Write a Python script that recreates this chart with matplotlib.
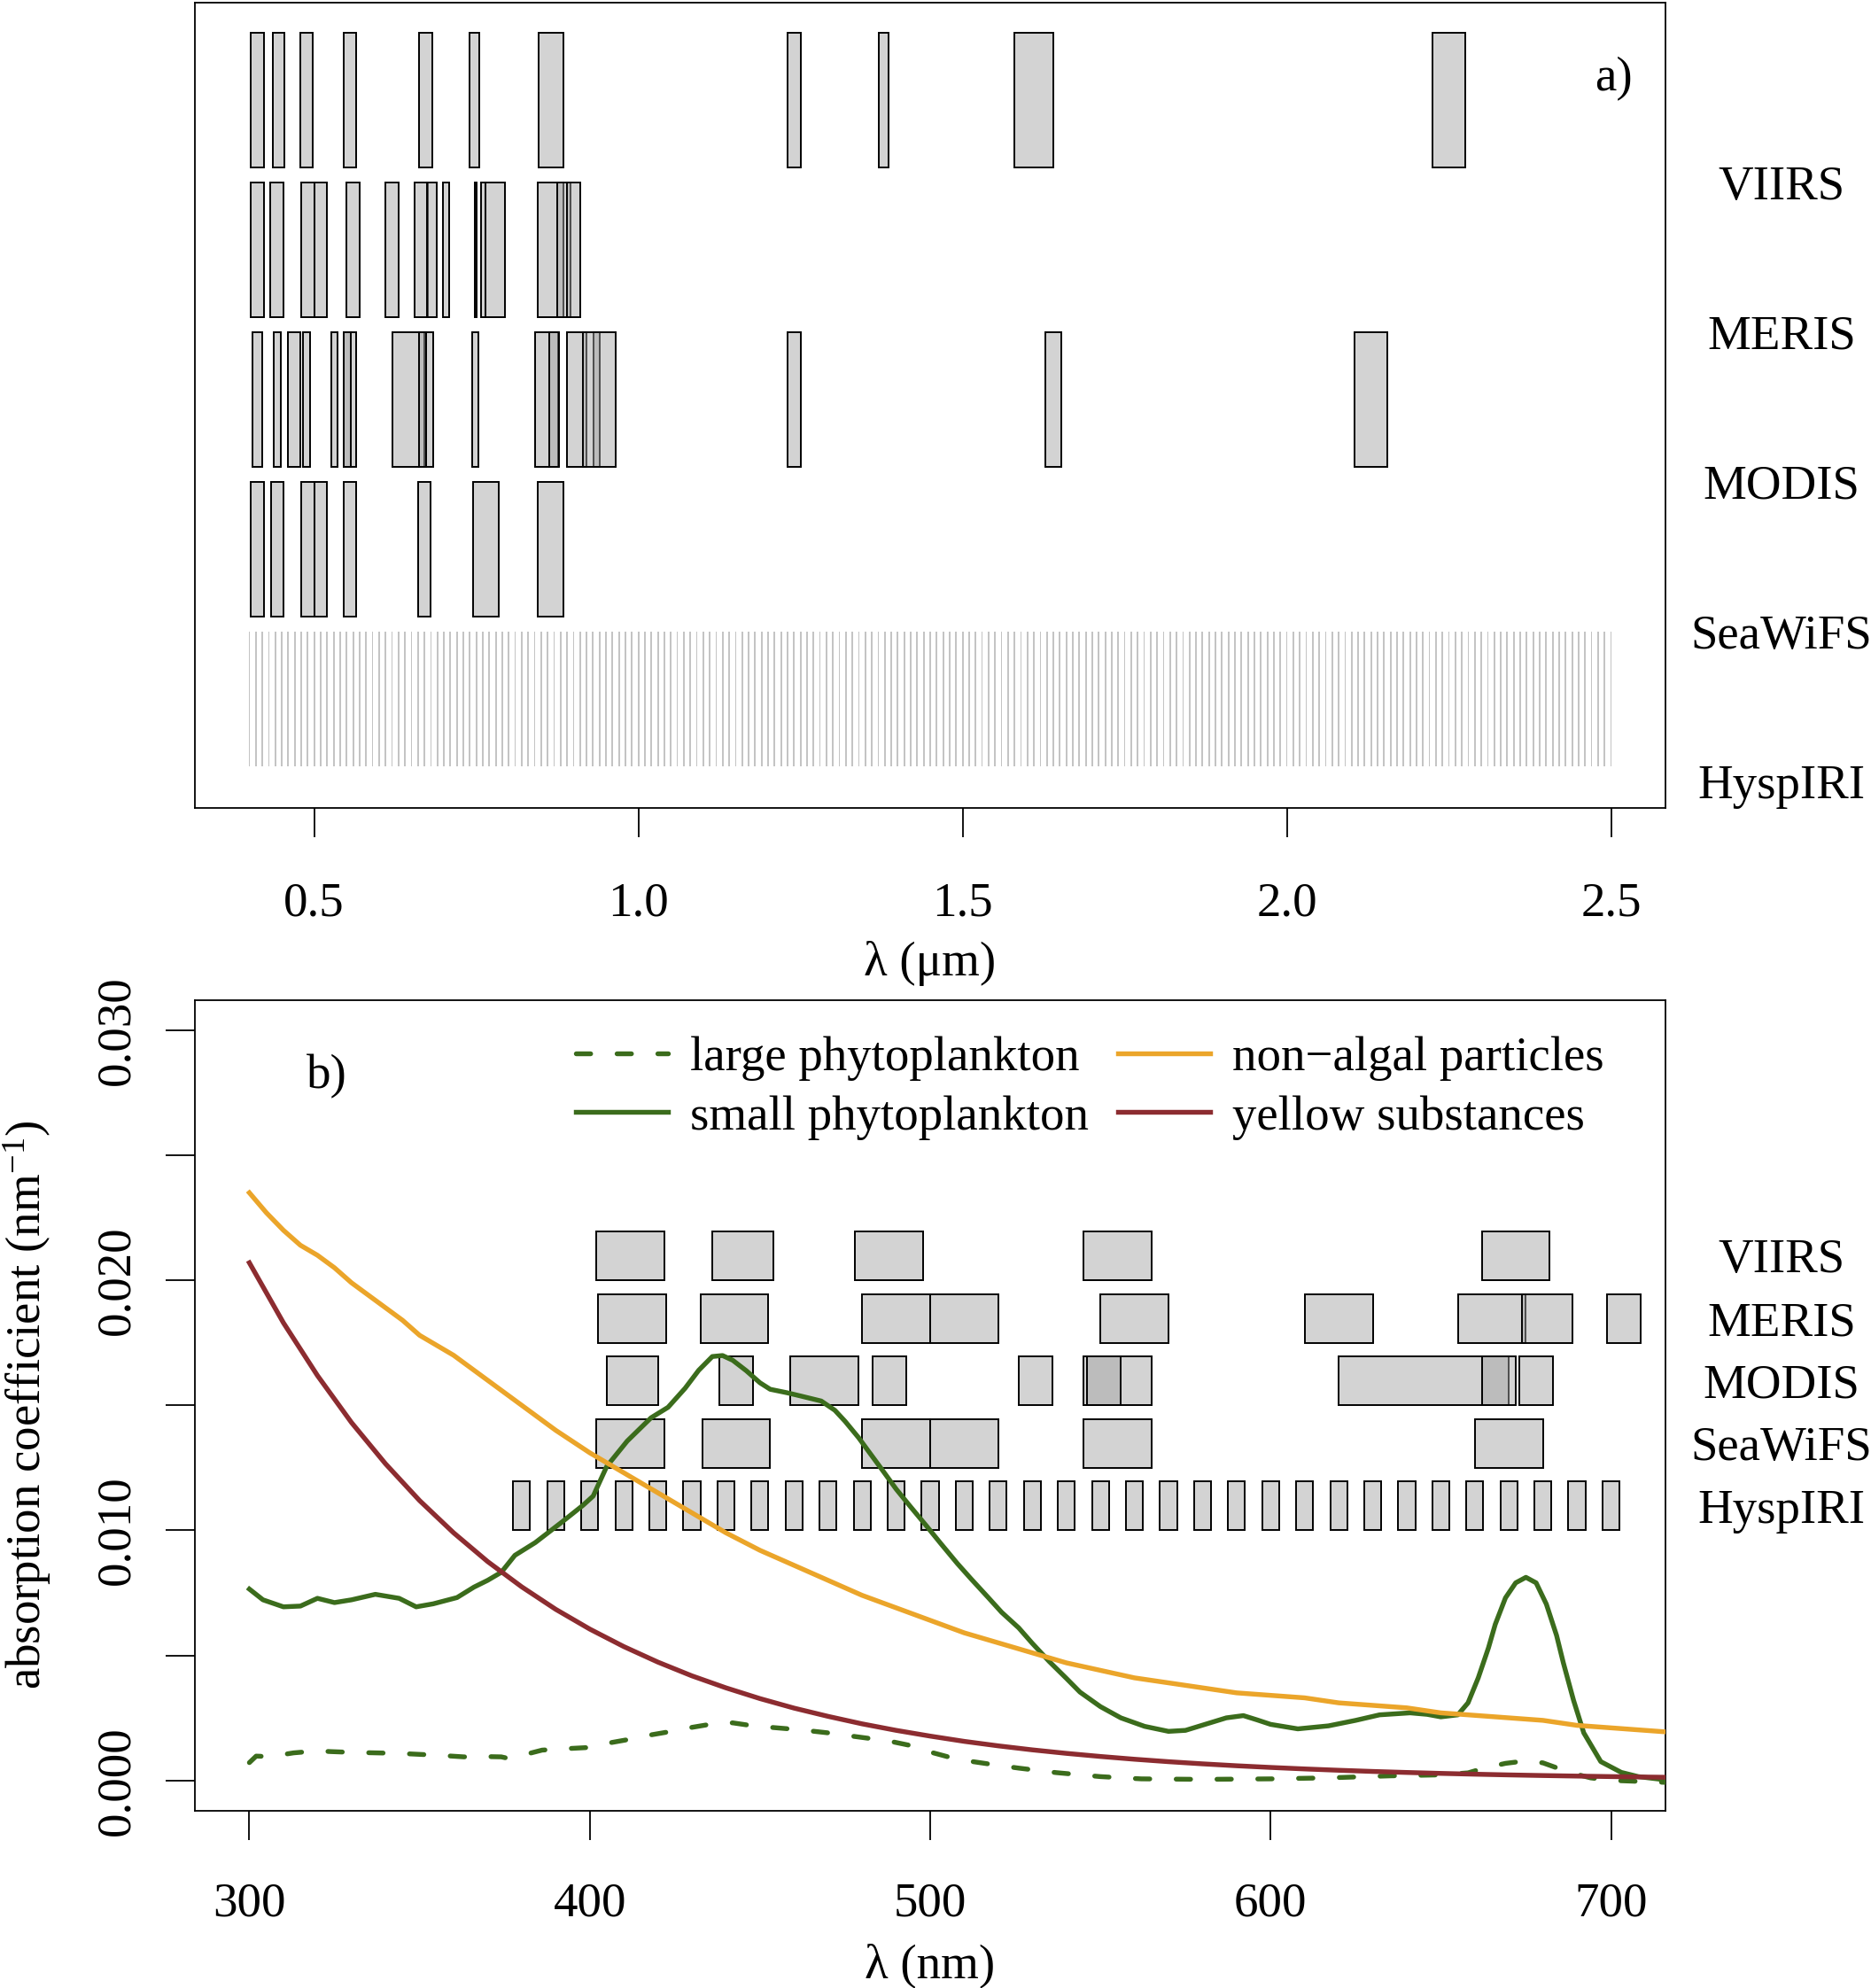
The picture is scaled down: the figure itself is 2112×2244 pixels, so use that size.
import numpy as np
import matplotlib.pyplot as plt
from matplotlib.transforms import blended_transform_factory

plt.rcParams['font.family'] = ['Liberation Serif', 'DejaVu Serif']
plt.rcParams['mathtext.fontset'] = 'custom'
plt.rcParams['mathtext.rm'] = 'Liberation Serif'
plt.rcParams['mathtext.it'] = 'Liberation Serif:italic'

# ---- sensor bands, lower / upper edge in nm ----
viirs_lo = [402, 436, 478, 545, 662, 739, 846, 1230, 1371, 1580, 2225]
viirs_hi = [422, 454, 498, 565, 682, 754, 885, 1250, 1386, 1640, 2275]

meris_lo = [402.5, 432.5, 480, 500, 550, 610, 655, 673.75, 698.75, 748, 757, 764, 845, 875, 890]
meris_hi = [422.5, 452.5, 500, 520, 570, 630, 675, 688.75, 708.75, 750, 764.5, 794, 885, 895, 910]

# MODIS bands 1..19
modis_lo = [620, 841, 459, 545, 1230, 1628, 2105, 405, 438, 483, 526, 546, 662, 673, 743, 862, 890, 931, 915]
modis_hi = [670, 876, 479, 565, 1250, 1652, 2155, 420, 448, 493, 536, 556, 672, 683, 753, 877, 920, 941, 965]

seawifs_lo = [402, 433, 480, 500, 545, 660, 745, 845]
seawifs_hi = [422, 453, 500, 520, 565, 680, 785, 885]

# HyspIRI 10 nm channels
hyspiri_full = np.arange(400, 2501, 10)   # panel a
hyspiri_vis = np.arange(380, 701, 10)     # panel b
hyspiri_half = 2.5

sensors = ["VIIRS", "MERIS", "MODIS", "SeaWiFS", "HyspIRI"]

# ---- absorption spectra (nm, 1/nm) ----
wl_nap = [300, 305, 310, 315, 320, 325, 330, 335, 340, 345, 350, 355, 360, 365, 370, 375, 380,
          385, 390, 400, 410, 420, 430, 440, 450, 460, 470, 480, 490, 500, 510, 520, 530, 540,
          550, 560, 570, 580, 590, 600, 610, 620, 630, 640, 650, 660, 670, 680, 690, 700, 710, 720]
a_nap = [0.0235, 0.0227, 0.0220, 0.0214, 0.0210, 0.0205, 0.0199, 0.0194, 0.0189, 0.0184, 0.0178,
         0.0174, 0.0170, 0.0165, 0.0160, 0.0155, 0.0150, 0.0145, 0.0140, 0.0131, 0.0123, 0.0115,
         0.0107, 0.0099, 0.0092, 0.0086, 0.0080, 0.0074, 0.0069, 0.0064, 0.0059, 0.0055, 0.0051,
         0.0047, 0.0044, 0.0041, 0.0039, 0.0037, 0.0035, 0.0034, 0.0033, 0.0031, 0.0030, 0.0029,
         0.0027, 0.0026, 0.0025, 0.0024, 0.0022, 0.0021, 0.0020, 0.0019]

wl_cdom = [300, 310, 320, 330, 340, 350, 360, 370, 380, 390, 400, 410, 420, 430, 440, 450, 460,
           470, 480, 490, 500, 510, 520, 530, 540, 550, 560, 570, 580, 590, 600, 610, 620, 630,
           640, 650, 660, 670, 680, 690, 700, 710, 720]
a_cdom = [0.02070, 0.01830, 0.01619, 0.01431, 0.01266, 0.01119, 0.00990, 0.00875, 0.00774,
          0.00684, 0.00605, 0.00535, 0.00473, 0.00418, 0.00370, 0.00327, 0.00289, 0.00256,
          0.00226, 0.00200, 0.00177, 0.00156, 0.00138, 0.00122, 0.00108, 0.000956, 0.000845,
          0.000747, 0.000661, 0.000584, 0.000517, 0.000457, 0.000404, 0.000357, 0.000316,
          0.000279, 0.000247, 0.000218, 0.000193, 0.000171, 0.000151, 0.000133, 0.000118]

wl_small = [300, 304, 310, 315, 320, 325, 330, 337, 344, 349, 354, 361, 366, 370, 374, 378, 384,
            392, 398, 401, 405, 411, 418, 423, 428, 432, 436, 439, 442, 446, 450, 453, 458, 462,
            468, 472, 475, 479, 482, 486, 490, 494, 499, 503, 508, 512, 517, 521, 526, 530, 535,
            540, 544, 550, 556, 563, 570, 575, 581, 587, 592, 596, 600, 608, 617, 625, 632, 641,
            646, 650, 655, 658, 661, 664, 666, 669, 672, 675, 678, 681, 684, 686, 689, 692, 697,
            703, 708, 716]
a_small = [0.00765, 0.00722, 0.00694, 0.00697, 0.00728, 0.00711, 0.00722, 0.00744, 0.00728,
           0.00694, 0.00706, 0.00731, 0.00773, 0.00800, 0.00832, 0.00900, 0.00951, 0.01035,
           0.01100, 0.01137, 0.01256, 0.01357, 0.01450, 0.01492, 0.01568, 0.01640, 0.01695,
           0.01699, 0.01680, 0.01638, 0.01590, 0.01564, 0.01550, 0.01537, 0.01517, 0.01480,
           0.01436, 0.01370, 0.01314, 0.01240, 0.01165, 0.01098, 0.01016, 0.00949, 0.00867,
           0.00806, 0.00732, 0.00672, 0.00610, 0.00548, 0.00475, 0.00408, 0.00353, 0.00295,
           0.00250, 0.00216, 0.00196, 0.00200, 0.00225, 0.00250, 0.00259, 0.00242, 0.00224,
           0.00206, 0.00218, 0.00240, 0.00262, 0.00270, 0.00264, 0.00254, 0.00262, 0.00310,
           0.00410, 0.00530, 0.00624, 0.00730, 0.00790, 0.00812, 0.00790, 0.00705, 0.00580,
           0.00470, 0.00320, 0.00190, 0.00075, 0.00032, 0.00015, 0.00002]

wl_large = [300, 302, 306, 313, 320, 324, 330, 337, 344, 350, 356, 363, 370, 374, 376, 380, 386,
            392, 399, 405, 412, 418, 424, 430, 437, 442, 448, 455, 462, 470, 477, 482, 488, 494,
            499, 505, 512, 519, 526, 537, 550, 562, 580, 600, 617, 635, 650, 658, 663, 669, 675,
            680, 688, 694, 700, 716]
a_large = [0.00071, 0.00097, 0.00095, 0.00110, 0.00118, 0.00115, 0.00112, 0.00110, 0.00108,
           0.00104, 0.00100, 0.00094, 0.00095, 0.00094, 0.00088, 0.00100, 0.00121, 0.00126,
           0.00131, 0.00148, 0.00165, 0.00182, 0.00196, 0.00212, 0.00228, 0.00230, 0.00218,
           0.00210, 0.00202, 0.00190, 0.00177, 0.00168, 0.00157, 0.00140, 0.00117, 0.00095,
           0.00076, 0.00062, 0.00049, 0.00031, 0.00015, 0.00006, 0.00004, 0.00006, 0.00010,
           0.00018, 0.00022, 0.00030, 0.00050, 0.00068, 0.00078, 0.00070, 0.00031, 0.00010,
           0.00000, -0.00008]

green = '#3b6c1c'
orange = '#eba52a'
darkred = '#8c2c30'
band_fill = (0.64, 0.64, 0.64, 0.48)
FS = 39.5


def draw_bands(ax, lo, hi, base, height, scale):
    lo = np.array(lo) * scale
    hi = np.array(hi) * scale
    ax.bar((lo + hi) / 2, height, width=hi - lo, bottom=base, color=band_fill,
           edgecolor='black', linewidth=1.4, zorder=2)


fig = plt.figure(figsize=(21.12, 22.44), dpi=100)
ax1 = fig.add_axes([220 / 2112, 1 - 912 / 2244, 1660 / 2112, 909 / 2244])
ax2 = fig.add_axes([220 / 2112, 1 - 2043.5 / 2244, 1660 / 2112, 914.5 / 2244])

# ---------------- panel a ----------------
bands = [(viirs_lo, viirs_hi), (meris_lo, meris_hi), (modis_lo, modis_hi), (seawifs_lo, seawifs_hi)]
rows_a = [4, 3, 2, 1, 0]
for (lo, hi), base in zip(bands, rows_a[:4]):
    draw_bands(ax1, lo, hi, base, 0.9, 0.001)
ax1.bar(hyspiri_full / 1000, 0.9, width=hyspiri_half / 1000, bottom=0,
        color='#c4c4c4', edgecolor='none', zorder=1)

tr1 = blended_transform_factory(ax1.transAxes, ax1.transData)
for name, base in zip(sensors, rows_a):
    ax1.text(1.079, base - 0.135, name, transform=tr1, ha='center', va='center',
             fontsize=FS, clip_on=False)

ax1.set_xlim(0.316, 2.584)
ax1.set_ylim(-0.28, 5.1)
ax1.set_yticks([])
ax1.set_xticks([0.5, 1.0, 1.5, 2.0, 2.5], ['0.5', '1.0', '1.5', '2.0', '2.5'])
ax1.text(0.5, -0.193, 'λ (μm)', transform=ax1.transAxes, ha='center', va='center', fontsize=FS)
ax1.text(0.965, 0.905, 'a)', transform=ax1.transAxes, ha='center', va='center', fontsize=FS)

# ---------------- panel b ----------------
rows_b = [0.0200, 0.0175, 0.0150, 0.0125, 0.0100]
row_h = 0.00195
for (lo, hi), base in zip(bands, rows_b[:4]):
    draw_bands(ax2, lo, hi, base, row_h, 1)
draw_bands(ax2, hyspiri_vis - hyspiri_half, hyspiri_vis + hyspiri_half, rows_b[4], row_h, 1)

tr2 = blended_transform_factory(ax2.transAxes, ax2.transData)
for name, base in zip(sensors, rows_b):
    ax2.text(1.079, base + row_h / 2 - 0.0002, name, transform=tr2, ha='center', va='center',
             fontsize=FS, clip_on=False)

lw = 3.9
ax2.plot(wl_large, a_large, color=green, lw=lw, dashes=(3, 5.5), dash_capstyle='round',
         label='large phytoplankton', zorder=3)
ax2.plot(wl_small, a_small, color=green, lw=lw, label='small phytoplankton', zorder=3)
ax2.plot(wl_nap, a_nap, color=orange, lw=lw, label='non\u2212algal particles', zorder=3)
ax2.plot(wl_cdom, a_cdom, color=darkred, lw=lw, label='yellow substances', zorder=3)

ax2.legend(loc='upper left', bbox_to_anchor=(0.259, 0.956), ncol=2, frameon=False,
           fontsize=FS, handlelength=1.9, handletextpad=0.45, columnspacing=0.6,
           labelspacing=0.3, borderpad=0, borderaxespad=0)

ax2.set_xlim(284, 716)
ax2.set_ylim(-0.0012, 0.0312)
ax2.set_xticks([300, 400, 500, 600, 700])
yt = [0.000, 0.005, 0.010, 0.015, 0.020, 0.025, 0.030]
ax2.set_yticks(yt, ['0.000', '', '0.010', '', '0.020', '', '0.030'], rotation=90, va='center')
ax2.text(0.5, -0.192, 'λ (nm)', transform=ax2.transAxes, ha='center', va='center', fontsize=FS)
ax2.text(0.0898, 0.906, 'b)', transform=ax2.transAxes, ha='center', va='center', fontsize=FS)
fig.text(31 / 2112, 1 - 1586 / 2244, 'absorption coefficient (nm$^{-1}$)', rotation=90,
         ha='center', va='center', fontsize=FS)

for ax in (ax1, ax2):
    for s in ax.spines.values():
        s.set_linewidth(1.3)
    ax.tick_params(axis='both', length=24, width=1.3, labelsize=FS)
ax1.tick_params(axis='x', pad=36)
ax2.tick_params(axis='x', pad=34)
ax2.tick_params(axis='y', pad=21)

fig.savefig('out.png', dpi=100)
